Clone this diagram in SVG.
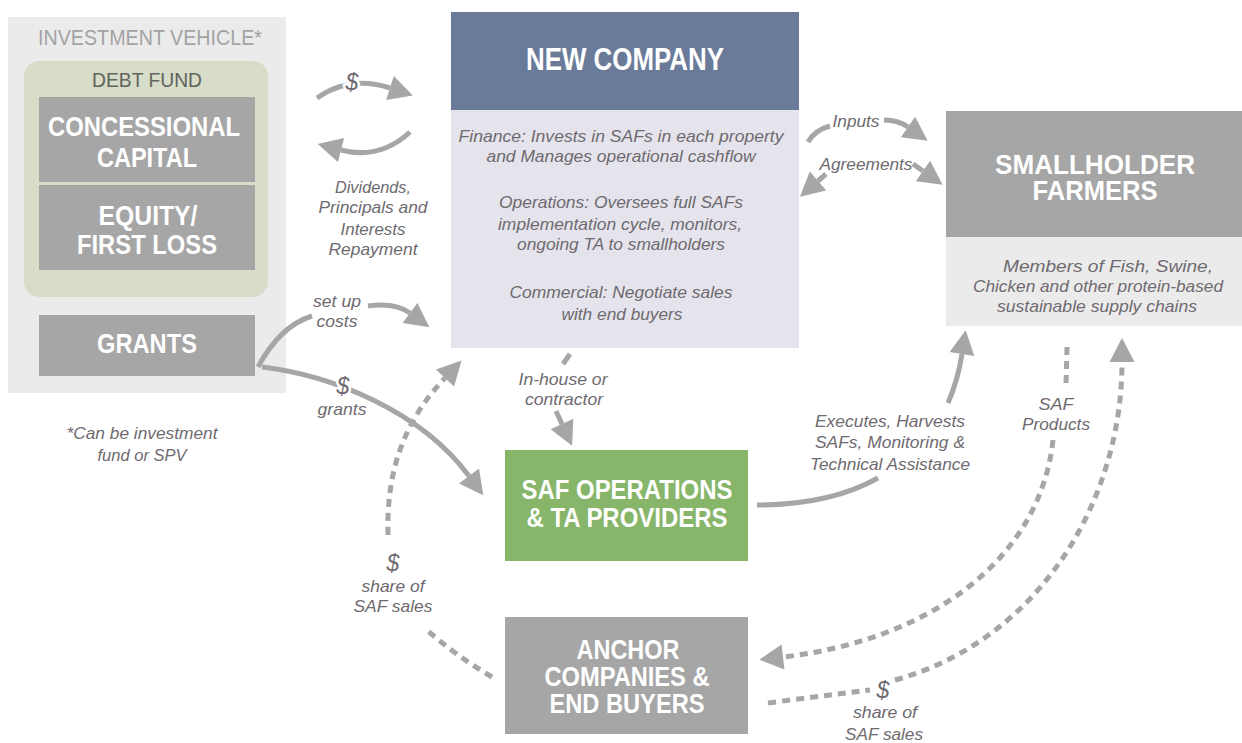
<svg xmlns="http://www.w3.org/2000/svg" width="1242" height="743" viewBox="0 0 1242 743">
<defs>
<style>
.lbl{font-family:"Liberation Sans",Arial,sans-serif;font-style:italic;font-size:17px;fill:#6e6a6f;text-anchor:middle}
.dol{font-family:"Liberation Sans",Arial,sans-serif;font-style:italic;font-size:23px;fill:#6e6a6f;text-anchor:middle}
.halo{stroke:#fff;stroke-width:5px;paint-order:stroke}
.bt{font-family:"Liberation Sans",Arial,sans-serif;font-weight:bold;fill:#fff;text-anchor:middle}
.con{fill:none;stroke:#a6a6a6;stroke-width:5}
.dash{fill:none;stroke:#a6a6a6;stroke-width:5;stroke-dasharray:8 6}
</style>
<marker id="ah" markerUnits="userSpaceOnUse" markerWidth="28" markerHeight="28" viewBox="0 -14 26 28" refX="0" refY="0" orient="auto">
<path d="M0,-12.5 L24,0 L0,12.5 z" fill="#a6a6a6"/>
</marker>
</defs>
<rect width="1242" height="743" fill="#fff"/>

<g id="investment-vehicle">
<rect x="8" y="17" width="278" height="376" fill="#ebebeb"/>
<text x="150" y="45" font-family="Liberation Sans,Arial,sans-serif" font-size="22" fill="#a3a3a3" text-anchor="middle" textLength="224" lengthAdjust="spacingAndGlyphs">INVESTMENT VEHICLE*</text>
</g>
<g id="debt-fund">
<rect x="24" y="61" width="244" height="236" rx="15" fill="#d7ddc9"/>
<text x="147" y="87" font-family="Liberation Sans,Arial,sans-serif" font-size="21" fill="#62635c" text-anchor="middle" textLength="110" lengthAdjust="spacingAndGlyphs">DEBT FUND</text>
</g>
<g id="concessional-capital">
<rect x="39" y="97" width="216" height="85" fill="#a6a6a6"/>
<text class="bt" x="144" y="136" font-size="28" textLength="192" lengthAdjust="spacingAndGlyphs">CONCESSIONAL</text>
<text class="bt" x="147" y="167" font-size="28" textLength="100" lengthAdjust="spacingAndGlyphs">CAPITAL</text>
</g>
<g id="equity">
<rect x="39" y="185" width="216" height="85" fill="#a6a6a6"/>
<text class="bt" x="148" y="225" font-size="28" textLength="99" lengthAdjust="spacingAndGlyphs">EQUITY/</text>
<text class="bt" x="147" y="254" font-size="28" textLength="140" lengthAdjust="spacingAndGlyphs">FIRST LOSS</text>
</g>
<g id="grants">
<rect x="39" y="315" width="216" height="61" fill="#a6a6a6"/>
<text class="bt" x="147" y="353" font-size="28" textLength="100" lengthAdjust="spacingAndGlyphs">GRANTS</text>
</g>
<g id="footnote">
<text class="lbl" x="142" y="439" textLength="151" lengthAdjust="spacingAndGlyphs">*Can be investment</text>
<text class="lbl" x="142" y="461" textLength="89" lengthAdjust="spacingAndGlyphs">fund or SPV</text>
</g>

<g id="new-company">
<rect x="451" y="12" width="348" height="98" fill="#6a7b99"/>
<rect x="451" y="110" width="348" height="238" fill="#e5e4ec"/>
<text class="bt" x="625" y="70" font-size="31" textLength="198" lengthAdjust="spacingAndGlyphs">NEW COMPANY</text>
<text class="lbl" x="621" y="142" textLength="325" lengthAdjust="spacingAndGlyphs">Finance: Invests in SAFs in each property</text>
<text class="lbl" x="621" y="162" textLength="269" lengthAdjust="spacingAndGlyphs">and Manages operational cashflow</text>
<text class="lbl" x="621" y="208" textLength="244" lengthAdjust="spacingAndGlyphs">Operations: Oversees full SAFs</text>
<text class="lbl" x="620" y="230" textLength="244" lengthAdjust="spacingAndGlyphs">implementation cycle, monitors,</text>
<text class="lbl" x="621" y="250" textLength="208" lengthAdjust="spacingAndGlyphs">ongoing TA to smallholders</text>
<text class="lbl" x="621" y="298" textLength="223" lengthAdjust="spacingAndGlyphs">Commercial: Negotiate sales</text>
<text class="lbl" x="622" y="320" textLength="121" lengthAdjust="spacingAndGlyphs">with end buyers</text>
</g>

<g id="smallholder-farmers">
<rect x="946" y="111" width="296" height="126" fill="#a6a6a6"/>
<rect x="946" y="237" width="296" height="89" fill="#ebebeb"/>
<text class="bt" x="1095" y="174" font-size="28" textLength="200" lengthAdjust="spacingAndGlyphs">SMALLHOLDER</text>
<text class="bt" x="1095" y="200" font-size="28" textLength="125" lengthAdjust="spacingAndGlyphs">FARMERS</text>
<text class="lbl" x="1108" y="272" textLength="210" lengthAdjust="spacingAndGlyphs">Members of Fish, Swine,</text>
<text class="lbl" x="1098" y="292" textLength="250" lengthAdjust="spacingAndGlyphs">Chicken and other protein-based</text>
<text class="lbl" x="1097" y="312" textLength="200" lengthAdjust="spacingAndGlyphs">sustainable supply chains</text>
</g>

<g id="saf-operations">
<rect x="505" y="450" width="243" height="111" fill="#87b56a"/>
<text class="bt" x="627" y="499" font-size="27" textLength="211" lengthAdjust="spacingAndGlyphs">SAF OPERATIONS</text>
<text class="bt" x="627" y="527" font-size="27" textLength="201" lengthAdjust="spacingAndGlyphs">&amp; TA PROVIDERS</text>
</g>

<g id="anchor-companies">
<rect x="505" y="617" width="243" height="117" fill="#a6a6a6"/>
<text class="bt" x="628" y="659" font-size="27" textLength="103" lengthAdjust="spacingAndGlyphs">ANCHOR</text>
<text class="bt" x="627" y="686" font-size="27" textLength="165" lengthAdjust="spacingAndGlyphs">COMPANIES &amp;</text>
<text class="bt" x="627" y="713" font-size="27" textLength="155" lengthAdjust="spacingAndGlyphs">END BUYERS</text>
</g>

<g id="connectors">
<path class="con" d="M317,98 Q350,75 390,88" marker-end="url(#ah)"/>
<text class="dol halo" x="352" y="90">$</text>
<path class="con" d="M410,132 Q380,160 341,150" marker-end="url(#ah)"/>
<text class="lbl" x="373" y="193" textLength="76" lengthAdjust="spacingAndGlyphs">Dividends,</text>
<text class="lbl" x="373" y="213" textLength="109" lengthAdjust="spacingAndGlyphs">Principals and</text>
<text class="lbl" x="373" y="235" textLength="65" lengthAdjust="spacingAndGlyphs">Interests</text>
<text class="lbl" x="373" y="255" textLength="89" lengthAdjust="spacingAndGlyphs">Repayment</text>

<path class="con" d="M258,367 Q280,326 312,316"/>
<path class="con" d="M368,306 Q395,302 410,313" marker-end="url(#ah)"/>
<text class="lbl" x="337" y="307" textLength="48" lengthAdjust="spacingAndGlyphs">set up</text>
<text class="lbl" x="337" y="327" textLength="41" lengthAdjust="spacingAndGlyphs">costs</text>

<path class="con" d="M262,367 C330,375 420,410 469,476" marker-end="url(#ah)"/>
<text class="dol halo" x="343" y="394">$</text>
<text class="lbl" x="342" y="415" textLength="49" lengthAdjust="spacingAndGlyphs">grants</text>

<path class="dash" d="M492,677 Q455,655 427,630"/>
<path class="dash" d="M388,535 C386,470 405,420 445,378" marker-end="url(#ah)"/>
<text class="dol" x="393" y="571">$</text>
<text class="lbl" x="393" y="592" textLength="63" lengthAdjust="spacingAndGlyphs">share of</text>
<text class="lbl" x="393" y="612" textLength="79" lengthAdjust="spacingAndGlyphs">SAF sales</text>

<path class="con" d="M570,354 L563,364"/>
<path class="con" d="M556,411 L562,424" marker-end="url(#ah)"/>
<text class="lbl" x="563" y="385" textLength="89" lengthAdjust="spacingAndGlyphs">In-house or</text>
<text class="lbl" x="564" y="405" textLength="78" lengthAdjust="spacingAndGlyphs">contractor</text>

<path class="con" d="M808,142 Q815,130 830,126"/>
<path class="con" d="M884,120 Q898,120 908,127" marker-end="url(#ah)"/>
<text class="lbl" x="856" y="127" textLength="47" lengthAdjust="spacingAndGlyphs">Inputs</text>
<path class="con" d="M826,174 L818,181" marker-end="url(#ah)"/>
<path class="con" d="M913,164 L923,171" marker-end="url(#ah)"/>
<text class="lbl" x="866" y="170" textLength="93" lengthAdjust="spacingAndGlyphs">Agreements</text>

<path class="con" d="M757,505 Q830,505 878,478"/>
<path class="con" d="M948,403 Q958,380 962,354" marker-end="url(#ah)"/>
<text class="lbl" x="890" y="427" textLength="150" lengthAdjust="spacingAndGlyphs">Executes, Harvests</text>
<text class="lbl" x="890" y="448" textLength="150" lengthAdjust="spacingAndGlyphs">SAFs, Monitoring &amp;</text>
<text class="lbl" x="890" y="470" textLength="160" lengthAdjust="spacingAndGlyphs">Technical Assistance</text>

<path class="dash" d="M1067,347 L1066,384"/>
<path class="dash" d="M1053,440 C1040,560 930,640 783,657" marker-end="url(#ah)"/>
<text class="lbl" x="1056" y="410" textLength="35" lengthAdjust="spacingAndGlyphs">SAF</text>
<text class="lbl" x="1056" y="430" textLength="68" lengthAdjust="spacingAndGlyphs">Products</text>

<path class="dash" d="M768,703 Q820,696 870,690"/>
<path class="dash" d="M895,680 C1040,640 1122,500 1122,362" marker-end="url(#ah)"/>
<text class="dol halo" x="883" y="698">$</text>
<text class="lbl" x="885" y="718" textLength="64" lengthAdjust="spacingAndGlyphs">share of</text>
<text class="lbl" x="884" y="740" textLength="78" lengthAdjust="spacingAndGlyphs">SAF sales</text>
</g>
</svg>
